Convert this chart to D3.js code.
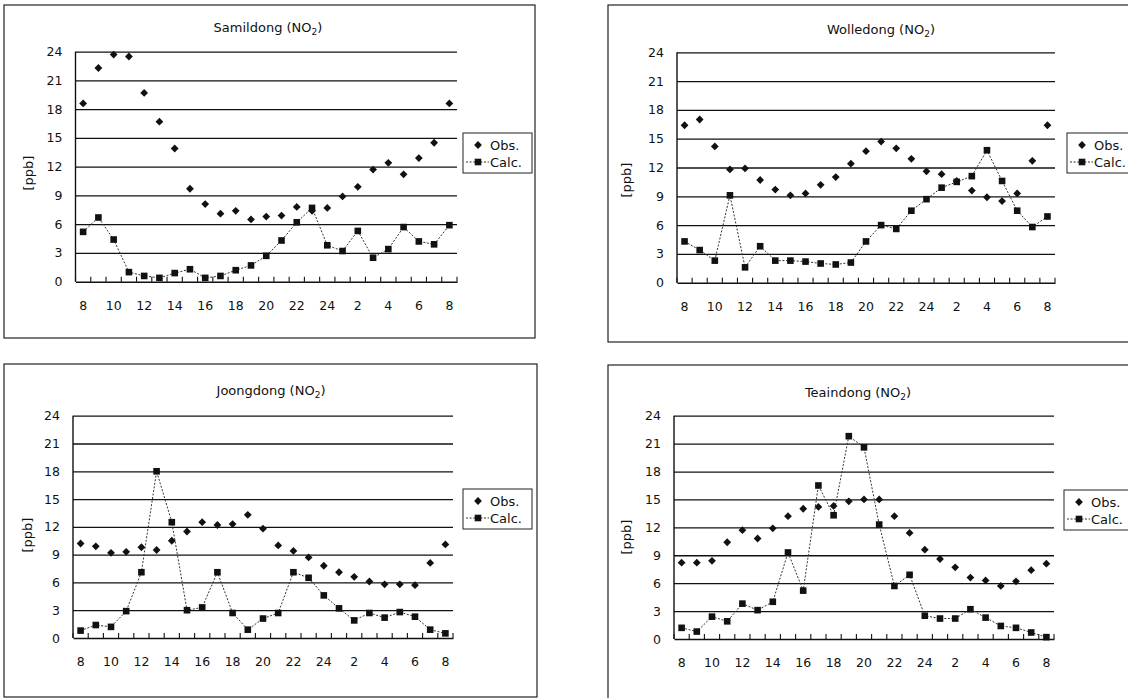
<!DOCTYPE html>
<html>
<head>
    <meta charset="utf-8">
    <title>NO2 obs / calc</title>
    <style>
        body { margin: 0; background: #fff; }
        svg text { font-family: "DejaVu Sans", "Liberation Sans", sans-serif; fill: #111; }
    </style>
</head>
<body>

<main></main>

<script src="https://d3js.org/d3.v7.min.js"></script>
<script>
    // x categories: 8 o'clock to 8 o'clock next morning
    var hours = ["8", "9", "10", "11", "12", "13", "14", "15", "16", "17", "18", "19", "20",
        "21", "22", "23", "24", "1", "2", "3", "4", "5", "6", "7", "8"];
    var yTicks = [0, 3, 6, 9, 12, 15, 18, 21, 24];
    var stations = ["Samildong", "Wolledong", "Joongdong", "Teaindong"];
    var seriesNames = ["Obs.", "Calc."];

    // values [ppb]
    var samildongObs = [18.6, 22.3, 23.7, 23.5, 19.7, 16.7, 13.9, 9.7, 8.1, 7.1, 7.4, 6.5, 6.8,
        6.9, 7.8, 7.4, 7.7, 8.9, 9.9, 11.7, 12.4, 11.2, 12.9, 14.5, 18.6];
    var samildongCalc = [5.2, 6.7, 4.4, 1.0, 0.6, 0.4, 0.9, 1.3, 0.4, 0.6, 1.2, 1.7, 2.7,
        4.3, 6.2, 7.7, 3.8, 3.2, 5.3, 2.5, 3.4, 5.7, 4.2, 3.9, 5.9];

    var wolledongObs = [16.4, 17.0, 14.2, 11.8, 11.9, 10.7, 9.7, 9.1, 9.3, 10.2, 11.0, 12.4, 13.7,
        14.7, 14.0, 12.9, 11.6, 11.3, 10.6, 9.6, 8.9, 8.5, 9.3, 12.7, 16.4];
    var wolledongCalc = [4.3, 3.4, 2.3, 9.1, 1.6, 3.8, 2.3, 2.3, 2.2, 2.0, 1.9, 2.1, 4.3,
        6.0, 5.6, 7.5, 8.7, 9.9, 10.5, 11.1, 13.8, 10.6, 7.5, 5.8, 6.9];

    var joongdongObs = [10.2, 9.9, 9.2, 9.3, 9.8, 9.5, 10.5, 11.5, 12.5, 12.2, 12.3, 13.3, 11.8,
        10.0, 9.4, 8.7, 7.8, 7.1, 6.6, 6.1, 5.8, 5.8, 5.7, 8.1, 10.1];
    var joongdongCalc = [0.8, 1.4, 1.2, 2.9, 7.1, 18.0, 12.5, 3.0, 3.3, 7.1, 2.7, 0.9, 2.1,
        2.7, 7.1, 6.5, 4.6, 3.2, 1.9, 2.7, 2.2, 2.8, 2.3, 0.9, 0.5];

    var teaindongObs = [8.2, 8.2, 8.4, 10.4, 11.7, 10.8, 11.9, 13.2, 14.0, 14.2, 14.3, 14.8, 15.0,
        15.0, 13.2, 11.4, 9.6, 8.6, 7.7, 6.6, 6.3, 5.7, 6.2, 7.4, 8.1];
    var teaindongCalc = [1.2, 0.8, 2.4, 1.9, 3.8, 3.1, 4.0, 9.3, 5.2, 16.5, 13.3, 21.8, 20.6,
        12.3, 5.7, 6.9, 2.5, 2.2, 2.2, 3.2, 2.3, 1.4, 1.2, 0.7, 0.2];

    var obsData = [samildongObs, wolledongObs, joongdongObs, teaindongObs];
    var calcData = [samildongCalc, wolledongCalc, joongdongCalc, teaindongCalc];

    // where each panel sits on the page
    var layout = [
        {box: [4, 5, 535, 338], plot: [75.5, 457, 51.7, 281.7], title: [268, 28], legend: [463, 133], ylab: [28, 173]},
        {box: [608, 5, 1140, 342], plot: [677, 1055, 52.3, 282.7], title: [881, 30], legend: [1067, 133], ylab: [626, 180]},
        {box: [4, 364, 537, 697], plot: [73, 453, 415.7, 638], title: [271, 391], legend: [463, 489], ylab: [27, 535]},
        {box: [608, 365, 1140, 720], plot: [674, 1054, 415.7, 639], title: [858, 393], legend: [1064, 490], ylab: [626, 537]}
    ];

    var width = 1128;
    var height = 698;
    var svg = d3.select("main")
        .append("svg")
        .attr("width", width)
        .attr("height", height);

    function diamond(r) {
        return "M0," + (-r) + "L" + r + ",0L0," + r + "L" + (-r) + ",0Z";
    }

    var lineDash = "2,1.6";

    stations.forEach(function (name, k) {
        var L = layout[k];
        var g = svg.append("g");

        // panel frame
        g.append("rect")
            .attr("x", L.box[0])
            .attr("y", L.box[1])
            .attr("width", L.box[2] - L.box[0])
            .attr("height", L.box[3] - L.box[1])
            .attr("fill", "none")
            .attr("stroke", "#222")
            .attr("stroke-width", 1.2);

        var x = d3.scaleBand()
            .domain(d3.range(hours.length))
            .range([L.plot[0], L.plot[1]]);
        var y = d3.scaleLinear()
            .domain([0, 24])
            .range([L.plot[3], L.plot[2]]);

        // horizontal gridlines
        g.append("g")
            .attr("transform", "translate(" + L.plot[0] + ",0)")
            .call(d3.axisLeft(y).tickValues(yTicks.slice(1)).tickSize(-(L.plot[1] - L.plot[0])).tickFormat(""))
            .call(function (s) {
                s.select(".domain").remove();
                s.selectAll("line").attr("stroke", "#111").attr("stroke-width", 1.3);
            });

        // y axis labels
        g.append("g")
            .attr("transform", "translate(" + (L.plot[0] - 6) + ",0)")
            .call(d3.axisLeft(y).tickValues(yTicks).tickSize(0).tickPadding(7))
            .call(function (s) {
                s.select(".domain").remove();
                s.selectAll("text").attr("font-size", 12.5).attr("font-family", null);
            });

        // x axis line and labels (every second hour)
        g.append("g")
            .attr("transform", "translate(0," + L.plot[3] + ")")
            .call(d3.axisBottom(x)
                .tickValues(d3.range(0, hours.length, 2))
                .tickFormat(function (i) { return hours[i]; })
                .tickSize(0)
                .tickPadding(19))
            .call(function (s) {
                s.select(".domain").attr("stroke", "#111").attr("stroke-width", 1.4);
                s.selectAll("text").attr("font-size", 12.5).attr("font-family", null);
            });

        // category boundary ticks, pointing into the plot
        g.append("g")
            .selectAll("line")
            .data(d3.range(hours.length + 1))
            .enter()
            .append("line")
            .attr("x1", function (i) { return x.range()[0] + i * x.step(); })
            .attr("x2", function (i) { return x.range()[0] + i * x.step(); })
            .attr("y1", L.plot[3])
            .attr("y2", L.plot[3] - 5)
            .attr("stroke", "#111")
            .attr("stroke-width", 1.1);

        // y axis line
        g.append("line")
            .attr("x1", L.plot[0]).attr("x2", L.plot[0])
            .attr("y1", L.plot[2]).attr("y2", L.plot[3])
            .attr("stroke", "#111")
            .attr("stroke-width", 1.4);

        // title with subscript
        var t = g.append("text")
            .attr("x", L.title[0])
            .attr("y", L.title[1] + 4)
            .attr("text-anchor", "middle")
            .attr("font-size", 13);
        t.append("tspan").text(name + " (NO");
        t.append("tspan").attr("font-size", 9).attr("dy", 3).text("2");
        t.append("tspan").attr("dy", -3).text(")");

        // y axis title
        g.append("text")
            .attr("transform", "translate(" + L.ylab[0] + "," + L.ylab[1] + ") rotate(-90)")
            .attr("text-anchor", "middle")
            .attr("dy", "0.35em")
            .attr("font-size", 13)
            .text("[ppb]");

        var cx = function (d, i) { return x(i) + x.bandwidth() / 2; };

        // calc series: dotted line + squares
        var line = d3.line()
            .x(function (d, i) { return x(i) + x.bandwidth() / 2; })
            .y(function (d) { return y(d); });
        g.append("path")
            .datum(calcData[k])
            .attr("d", line)
            .attr("fill", "none")
            .attr("stroke", "#333")
            .attr("stroke-width", 1)
            .attr("stroke-dasharray", lineDash);
        g.append("g")
            .selectAll("rect")
            .data(calcData[k])
            .enter()
            .append("rect")
            .attr("x", function (d, i) { return cx(d, i) - 3.3; })
            .attr("y", function (d) { return y(d) - 3.3; })
            .attr("width", 6.6)
            .attr("height", 6.6)
            .attr("fill", "#111");

        // obs series: diamonds only
        g.append("g")
            .selectAll("path")
            .data(obsData[k])
            .enter()
            .append("path")
            .attr("transform", function (d, i) { return "translate(" + cx(d, i) + "," + y(d) + ")"; })
            .attr("d", diamond(3.9))
            .attr("fill", "#111");

        // legend
        var lg = g.append("g").attr("transform", "translate(" + L.legend[0] + "," + L.legend[1] + ")");
        lg.append("rect")
            .attr("width", 69)
            .attr("height", 40)
            .attr("fill", "#fff")
            .attr("stroke", "#222")
            .attr("stroke-width", 1);
        lg.append("path")
            .attr("transform", "translate(15,12)")
            .attr("d", diamond(3.9))
            .attr("fill", "#111");
        lg.append("line")
            .attr("x1", 3).attr("x2", 26)
            .attr("y1", 29).attr("y2", 29)
            .attr("stroke", "#333")
            .attr("stroke-dasharray", lineDash);
        lg.append("rect")
            .attr("x", 11.7).attr("y", 25.7)
            .attr("width", 6.6).attr("height", 6.6)
            .attr("fill", "#111");
        lg.selectAll("text.lab")
            .data(seriesNames)
            .enter()
            .append("text")
            .attr("class", "lab")
            .attr("x", 27)
            .attr("y", function (d, i) { return 17 + i * 17; })
            .attr("font-size", 13)
            .text(function (d) { return d; });
    });
</script>
</body>
</html>
